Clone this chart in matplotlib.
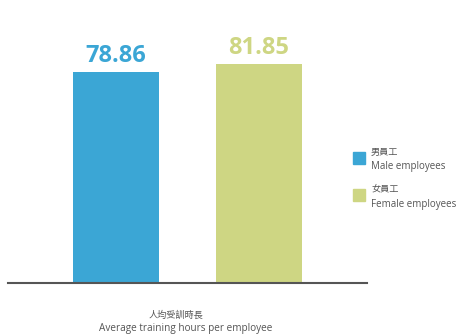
import matplotlib
matplotlib.use("Agg")
import matplotlib.pyplot as plt
from matplotlib.patches import Rectangle

cat_zh = ["男員工", "女員工"]
cat_en = ["Male employees", "Female employees"]
values = [78.86, 81.85]
colors = ["#3BA6D5", "#CED683"]
xlabel_zh = "人均受訓時長"
xlabel_en = "Average training hours per employee"

fam = ["Open Sans", "Noto Sans CJK TC", "DejaVu Sans"]
plt.rcParams["font.family"] = fam

fig = plt.figure(figsize=(4.6, 3.35), dpi=100)
ax = fig.add_axes([8/460, 52/335, 359/460, 267.6/335])
x = list(range(len(values)))
ax.bar(x, values, width=0.601, color=colors, zorder=2)
ax.set_xlim(-0.755, 1.755)
ax.set_ylim(0, 100)
for s in ["top", "right", "left"]:
    ax.spines[s].set_visible(False)
ax.spines["bottom"].set_color("#555555")
ax.spines["bottom"].set_linewidth(1.5)
ax.set_xticks([])
ax.set_yticks([])

for xi, v, c in zip(x, values, colors):
    ax.annotate(f"{v:.2f}", (xi, v), xytext=(0, 3), textcoords="offset points",
                ha="center", va="bottom", fontsize=17, fontweight="bold", color=c)

# legend
ys = [158, 195]
for yy, c, zh, en in zip(ys, colors, cat_zh, cat_en):
    fig.patches.append(Rectangle((353/460, 1 - (yy + 6)/335), 12/460, 12/335,
                                 transform=fig.transFigure, color=c, figure=fig))
    fig.text(371/460, 1 - (yy - 6)/335, zh, fontsize=6.6, color="#555555",
             ha="left", va="center")
    fig.text(371/460, 1 - (yy + 9)/335, en, fontsize=7.0, color="#555555",
             ha="left", va="center")

fig.text(176/460, 1 - 315.5/335, xlabel_zh, fontsize=6.6, color="#555555",
         ha="center", va="center")
fig.text(186/460, 1 - 328/335, xlabel_en, fontsize=7.2, color="#555555",
         ha="center", va="center")

fig.savefig("out.png", dpi=100)
